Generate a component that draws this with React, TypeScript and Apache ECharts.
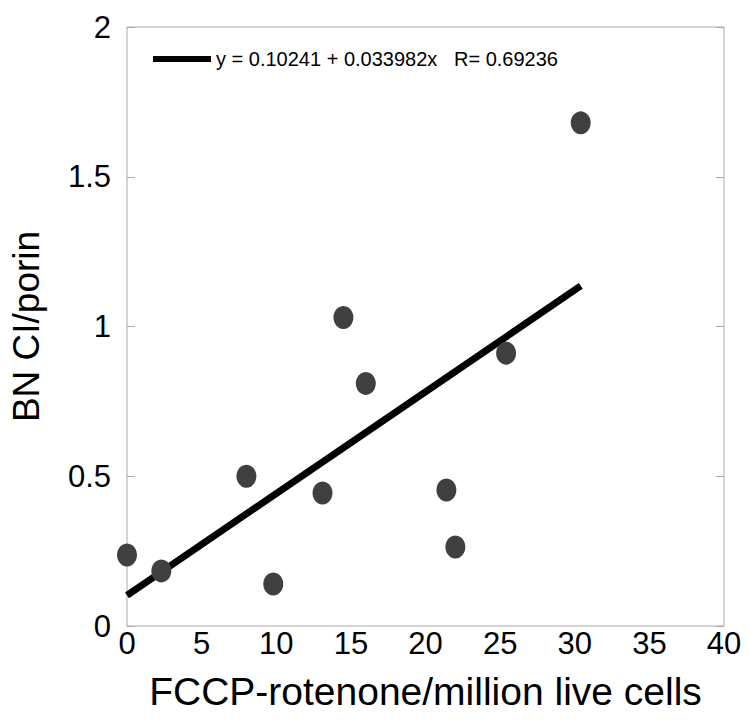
import React, { useEffect, useRef } from "react";
import * as echarts from "echarts";

const pointX = [0, 2.3, 8.0, 9.8, 13.1, 14.5, 16.0, 21.4, 22.0, 25.4, 30.4];
const pointY = [0.237, 0.184, 0.5, 0.14, 0.444, 1.03, 0.81, 0.454, 0.264, 0.911, 1.68];
const fitX = [0, 30.4];
const fitY = [0.10241, 1.1355];
const fitLabel = "y = 0.10241 + 0.033982x   R= 0.69236";
const xTitle = "FCCP-rotenone/million live cells";
const yTitle = "BN CI/porin";

export default function App() {
  const ref = useRef<HTMLDivElement>(null);
  useEffect(() => {
    if (!ref.current) return;
    const chart = echarts.init(ref.current, null, { renderer: "svg" });
    const font = "'Liberation Sans', Arial, Helvetica, sans-serif";
    chart.setOption({
      animation: false,
      backgroundColor: "#fff",
      textStyle: { fontFamily: font },
      grid: {
        left: 124,
        right: 26,
        top: 27,
        bottom: 99,
        show: true,
        borderColor: "#aaaaaa",
        borderWidth: 1,
      },
      legend: {
        left: 148,
        top: 44,
        itemWidth: 58,
        itemHeight: 6,
        itemGap: 4,
        data: [{ name: fitLabel, icon: "rect", itemStyle: { color: "#000" } }],
        textStyle: { fontSize: 20, color: "#000", fontFamily: font },
      },
      xAxis: {
        type: "value",
        min: 0,
        max: 40,
        interval: 5,
        name: xTitle,
        nameLocation: "middle",
        nameGap: 46,
        nameTextStyle: { fontSize: 39, color: "#000", fontFamily: font },
        axisLine: { show: false },
        axisTick: { show: false },
        splitLine: { show: false },
        axisLabel: { fontSize: 31, color: "#000", margin: 2, fontFamily: font },
      },
      yAxis: [
        {
          type: "value",
          min: 0,
          max: 2,
          interval: 0.5,
          name: yTitle,
          nameLocation: "middle",
          nameGap: 82,
          nameTextStyle: { fontSize: 37, color: "#000", fontFamily: font },
          axisLine: { show: false },
          axisTick: { show: true, inside: true, length: 8, lineStyle: { color: "#aaa" } },
          splitLine: { show: false },
          axisLabel: { fontSize: 31, color: "#000", margin: 16, fontFamily: font },
        },
        {
          type: "value",
          position: "right",
          min: 0,
          max: 2,
          interval: 0.5,
          axisLine: { show: false },
          axisTick: { show: true, inside: true, length: 8, lineStyle: { color: "#aaa" } },
          splitLine: { show: false },
          axisLabel: { show: false },
        },
      ],
      series: [
        {
          name: fitLabel,
          type: "line",
          data: fitX.map((x, i) => [x, fitY[i]]),
          showSymbol: false,
          symbol: "none",
          lineStyle: { color: "#000", width: 7 },
          itemStyle: { color: "#000" },
          z: 2,
        },
        {
          name: "data",
          type: "scatter",
          data: pointX.map((x, i) => [x, pointY[i]]),
          symbolSize: [20, 23],
          itemStyle: { color: "#404040", opacity: 1 },
          z: 3,
        },
      ],
    });
    return () => chart.dispose();
  }, []);
  return <div ref={ref} style={{ width: 750, height: 725, margin: -8 }} />;
}
